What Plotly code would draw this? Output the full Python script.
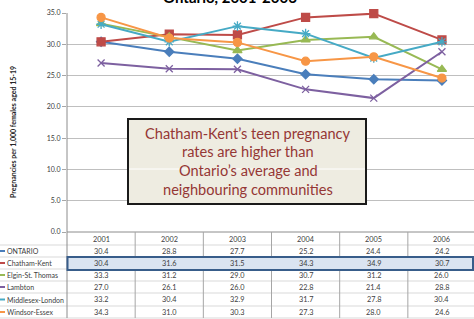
import plotly.graph_objects as go

years = ["2001", "2002", "2003", "2004", "2005", "2006"]
series_names = ["ONTARIO", "Chatham-Kent", "Elgin-St. Thomas", "Lambton", "Middlesex-London", "Windsor-Essex"]
ontario = [30.4, 28.8, 27.7, 25.2, 24.4, 24.2]
chatham_kent = [30.4, 31.6, 31.5, 34.3, 34.9, 30.7]
elgin_st_thomas = [33.3, 31.2, 29.0, 30.7, 31.2, 26.0]
lambton = [27.0, 26.1, 26.0, 22.8, 21.4, 28.8]
middlesex_london = [33.2, 30.4, 32.9, 31.7, 27.8, 30.4]
windsor_essex = [34.3, 31.0, 30.3, 27.3, 28.0, 24.6]
y_ticks = [0, 5, 10, 15, 20, 25, 30, 35]

all_series = [ontario, chatham_kent, elgin_st_thomas, lambton, middlesex_london, windsor_essex]
colors = ["#4A7EBB", "#BE4B48", "#98B954", "#7D60A0", "#46AAC5", "#F79646"]
symbols = ["diamond", "square", "triangle-up", "x-thin-open", "asterisk-open", "circle"]
msizes = [7, 8, 8, 7, 8, 8]

W, H = 474, 319
PL, PR, PT, PB = 67, 474, 13, 232
FONT = "Lato"


def px(x):
    return (x - PL) / (PR - PL)


def py(y):
    return (PB - y) / (PB - PT)


xs = list(range(len(years)))
fig = go.Figure()
for name, vals, c, s, ms in zip(series_names, all_series, colors, symbols, msizes):
    fig.add_trace(go.Scatter(
        x=xs, y=vals, name=name, mode="lines+markers",
        line=dict(color=c, width=2),
        marker=dict(symbol=s, size=ms, color=c, line=dict(color=c, width=1.3)),
        cliponaxis=False, showlegend=False,
    ))

unit = 68.17
fig.update_layout(
    width=W, height=H,
    margin=dict(l=PL, r=W - PR, t=PT, b=H - PB, pad=0),
    paper_bgcolor="white", plot_bgcolor="white",
    font=dict(family=FONT, color="#404040"),
    xaxis=dict(range=[-0.5, -0.5 + (PR - PL) / unit], showticklabels=False,
               showgrid=False, zeroline=False, showline=False, ticks=""),
    yaxis=dict(range=[0, 35], tickvals=y_ticks, tickformat=".1f",
               showgrid=True, gridcolor="#BFBFBF", gridwidth=1.3,
               zeroline=False, showline=False, ticks="outside", ticklen=4,
               tickcolor="#A6A6A6", tickfont=dict(size=7, family=FONT, color="#404040")),
)

shapes = []
# table horizontal lines
row_lines = [245, 257, 269, 281, 293, 306, 318]
for yl in row_lines:
    shapes.append(dict(type="line", xref="paper", yref="paper", x0=px(0), x1=px(W),
                       y0=py(yl), y1=py(yl), line=dict(color="#D9D9D9", width=1)))
# x axis line
shapes.append(dict(type="line", xref="paper", yref="paper", x0=px(PL), x1=px(W),
                   y0=py(PB), y1=py(PB), line=dict(color="#8C8C8C", width=1)))
# table vertical lines
for i in range(1, len(years) + 1):
    shapes.append(dict(type="line", xref="x", yref="paper", x0=i - 0.5, x1=i - 0.5,
                       y0=py(PB), y1=py(318), line=dict(color="#A6A6A6", width=1)))
# y axis line extended through table
shapes.append(dict(type="line", xref="paper", yref="paper", x0=0, x1=0,
                   y0=py(PT), y1=py(318), line=dict(color="#8C8C8C", width=1)))
# highlight of Chatham-Kent row
shapes.append(dict(type="rect", xref="paper", yref="paper", x0=px(67.5), x1=px(473),
                   y0=py(257), y1=py(270), fillcolor="#DAE4F1",
                   line=dict(color="#385D8A", width=2)))
# callout box
shapes.append(dict(type="rect", xref="paper", yref="paper", x0=px(128), x1=px(366),
                   y0=py(119), y1=py(204), fillcolor="#EEECE1",
                   line=dict(color="#1A1A1A", width=2)))
shapes.append(dict(type="line", xref="paper", yref="paper", x0=px(129), x1=px(365),
                   y0=py(169), y1=py(169), line=dict(color="white", width=1)))

annotations = []
# title (clipped at top)
annotations.append(dict(text="<b>Ontario, 2001-2006</b>", xref="paper", yref="paper",
                        x=px(229.5), y=py(8), xanchor="center", yanchor="bottom",
                        showarrow=False, font=dict(size=15, family=FONT, color="#000000")))
# y-axis title
annotations.append(dict(text="<b>Pregnancies per 1,000 females aged 15-19</b>", xref="paper", yref="paper",
                        x=px(13), y=py(132), xanchor="center", yanchor="middle", textangle=-90,
                        showarrow=False, font=dict(size=7, family=FONT, color="#262626")))
# callout text
callout_lines = ["Chatham-Kent’s teen pregnancy", "rates are higher than",
                 "Ontario’s average and", "neighbouring communities"]
for j, t in enumerate(callout_lines):
    annotations.append(dict(text=t, xref="paper", yref="paper", x=px(248), y=py(133 + j * 18.8),
                            xanchor="center", yanchor="middle", showarrow=False,
                            font=dict(size=14.6, family=FONT, color="#953735")))
# table header
header_y = 239
for i, yr in enumerate(years):
    annotations.append(dict(text=yr, xref="x", yref="paper", x=i, y=py(header_y),
                            xanchor="center", yanchor="middle", showarrow=False,
                            font=dict(size=7.3, family=FONT, color="#404040")))
# table rows
row_centers = [251, 263, 275, 287, 299.5, 312]
for name, vals, c, yc in zip(series_names, all_series, colors, row_centers):
    shapes.append(dict(type="line", xref="paper", yref="paper", x0=px(0), x1=px(5),
                       y0=py(yc), y1=py(yc), line=dict(color=c, width=2)))
    annotations.append(dict(text=name, xref="paper", yref="paper", x=px(5), y=py(yc),
                            xanchor="left", yanchor="middle", showarrow=False,
                            font=dict(size=7, family=FONT, color="#404040")))
    for i, v in enumerate(vals):
        annotations.append(dict(text=f"{v:.1f}", xref="x", yref="paper", x=i, y=py(yc),
                                xanchor="center", yanchor="middle", showarrow=False,
                                font=dict(size=7.3, family=FONT, color="#404040")))

fig.update_layout(shapes=shapes, annotations=annotations)
fig.write_html("out.html", config={"displayModeBar": False},
               post_script="document.body.style.margin='0';document.body.style.padding='0';")
